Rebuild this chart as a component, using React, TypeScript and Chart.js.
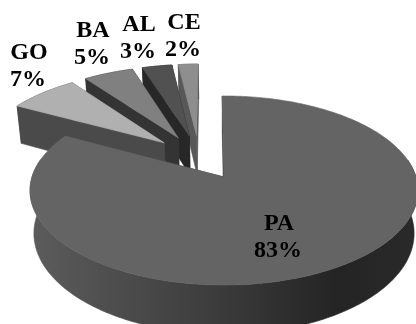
import React, { useEffect, useRef } from "react";
import { Chart, registerables } from "chart.js";

Chart.register(...registerables);

const states = ["PA", "GO", "BA", "AL", "CE"];
const shares = [83, 7, 5, 3, 2];
const topColors = ["#646464", "#b0b0b0", "#808080", "#515151", "#8e8e8e"];
const wallColors = ["#3c3c3c", "#4a4a4a", "#343434", "#272727", "#585858"];

// Screen position of each two-line label, in state order.
const labelCentres = [
  [279, 224],
  [29, 53],
  [93, 31],
  [139, 25],
  [184, 23],
];

// Perspective disc: apex of the main slice, axis scales, foreshortening, wall height.
const VIEW = { cx: 224, cy: 177, a: 192, b: 92.6, k: 1 / 7, wall: 42, lowerScale: 0.98 };

function project(u: number, v: number, lower: boolean): [number, number] {
  const w = 1 - VIEW.k * v;
  const s = lower ? VIEW.lowerScale : 1;
  return [VIEW.cx + (VIEW.a * s * u) / w, VIEW.cy + (VIEW.b * v + (lower ? VIEW.wall : 0)) / w];
}

function fillPoly(ctx: CanvasRenderingContext2D, pts: [number, number][], fill: any) {
  ctx.beginPath();
  pts.forEach(([x, y], i) => (i ? ctx.lineTo(x, y) : ctx.moveTo(x, y)));
  ctx.closePath();
  ctx.fillStyle = fill;
  ctx.strokeStyle = fill;
  ctx.lineWidth = 0.6;
  ctx.fill();
  ctx.stroke();
}

const pie3d = {
  id: "pie3d",
  beforeDatasetsDraw(chart: any) {
    const ctx: CanvasRenderingContext2D = chart.ctx;
    const arcs: any[] = chart.getDatasetMeta(0).data;
    const R = arcs[0].outerRadius;
    const shift = (arc: any): [number, number] => {
      const mid = (arc.startAngle + arc.endAngle) / 2;
      const e = arc.options.offset / R;
      return [Math.cos(mid) * e, Math.sin(mid) * e];
    };
    const [ox, oy] = shift(arcs[0]);

    // Far slices first, the large slice last.
    [4, 3, 2, 1, 0].forEach((i) => {
      const arc = arcs[i];
      const [sx, sy] = shift(arc);
      const du = sx - ox;
      const dv = sy - oy;
      const steps = Math.max(4, Math.round(((arc.endAngle - arc.startAngle) * 180) / Math.PI));
      const angles: number[] = [];
      for (let n = 0; n <= steps; n++) angles.push(arc.startAngle + ((arc.endAngle - arc.startAngle) * n) / steps);
      const rim = (lower: boolean) =>
        angles.map((t) => project(du + Math.cos(t), dv + Math.sin(t), lower));
      const apexTop = project(du, dv, false);
      const apexLow = project(du, dv, true);
      const rimTop = rim(false);
      const rimLow = rim(true);

      fillPoly(ctx, [apexTop, apexLow, rimLow[steps], rimTop[steps]], wallColors[i]);
      fillPoly(ctx, [apexTop, apexLow, rimLow[0], rimTop[0]], wallColors[i]);

      // The outer wall is one polygon, so the large slice's shading runs without seams.
      if (i === 0) {
        const g = ctx.createLinearGradient(30, 0, 416, 0);
        g.addColorStop(0, "#5c5c5c");
        g.addColorStop(0.45, "#3e3e3e");
        g.addColorStop(0.8, "#242424");
        g.addColorStop(1, "#2a2a2a");
        const front = angles.map((t, n) => n).filter((n) => Math.sin(angles[n]) > -0.2);
        fillPoly(ctx, [...front.map((n) => rimTop[n]), ...front.reverse().map((n) => rimLow[n])], g);
      } else {
        fillPoly(ctx, [...rimTop, ...[...rimLow].reverse()], wallColors[i]);
      }
      fillPoly(ctx, [apexTop, ...rimTop], topColors[i]);
    });

    ctx.save();
    ctx.fillStyle = "#000";
    ctx.font = 'bold 24px "Liberation Serif"';
    ctx.textAlign = "center";
    ctx.textBaseline = "middle";
    states.forEach((name, i) => {
      const [x, y] = labelCentres[i];
      ctx.fillText(name, x, y);
      ctx.fillText(`${shares[i]}%`, x - 1, y + 27);
    });
    ctx.restore();
    return false;
  },
};

export default function App() {
  const ref = useRef<HTMLCanvasElement>(null);
  useEffect(() => {
    document.body.style.margin = "0";
    const chart = new Chart(ref.current as HTMLCanvasElement, {
      type: "pie",
      data: {
        labels: states,
        datasets: [{ data: shares, backgroundColor: topColors, offset: 37, borderWidth: 0 }],
      },
      options: {
        responsive: false,
        animation: false,
        rotation: -0.6,
        plugins: { legend: { display: false }, tooltip: { enabled: false } },
      },
      plugins: [pie3d],
    } as any);
    return () => chart.destroy();
  }, []);
  return <canvas ref={ref} width={416} height={324} style={{ display: "block", background: "#fff" }} />;
}
